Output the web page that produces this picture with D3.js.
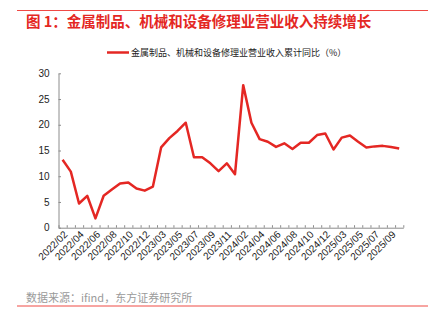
<!DOCTYPE html>
<html>
<head>
<meta charset="utf-8">
<script src="https://cdn.jsdelivr.net/npm/d3@7/dist/d3.min.js"></script>
<style>
  html, body { margin: 0; padding: 0; background: #fff; }
  svg { display: block; font-family: "Liberation Sans", Arial, "Noto Sans CJK SC", sans-serif; }
</style>
</head>
<body>
<svg id="chart" width="443" height="324"></svg>
<script>
// Monthly periods (January is reported together with February)
const months = [
  "2022/02","2022/03","2022/04","2022/05","2022/06","2022/07","2022/08","2022/09","2022/10","2022/11","2022/12",
  "2023/02","2023/03","2023/04","2023/05","2023/06","2023/07","2023/08","2023/09","2023/10","2023/11","2023/12",
  "2024/02","2024/03","2024/04","2024/05","2024/06","2024/07","2024/08","2024/09","2024/10","2024/11","2024/12",
  "2025/02","2025/03","2025/04","2025/05","2025/06","2025/07","2025/08","2025/09","2025/10"
];

// Cumulative year-on-year growth of operating revenue (%)
const revenueYoY = [
  13.2, 10.9, 4.7, 6.2, 1.8, 6.2, 7.4, 8.6, 8.8, 7.6, 7.2,
  8.0, 15.6, 17.4, 18.8, 20.4, 13.7, 13.7, 12.5, 11.0, 12.5, 10.4,
  27.7, 20.4, 17.2, 16.7, 15.7, 16.4, 15.3, 16.5, 16.5, 18.0, 18.3,
  15.2, 17.5, 17.9, 16.7, 15.6, 15.8, 15.9, 15.7, 15.4
];

const yTicks = [0, 5, 10, 15, 20, 25, 30];
const xLabels = months.filter((d, i) => i % 2 === 0);

const titleText = "图 1：金属制品、机械和设备修理业营业收入持续增长";
const legendText = "金属制品、机械和设备修理业营业收入累计同比（%）";
const sourceText = "数据来源：ifind，东方证券研究所";

const red = "#e42723";
const frameRed = "#ef4a45";

const svg = d3.select("#chart");
const plotLeft = 58.5, plotRight = 403.3, plotTop = 73.3, plotBottom = 227.7;

// Frame rules above the title and below the source note
svg.append("line").attr("x1", 17).attr("x2", 428).attr("y1", 10.5).attr("y2", 10.5)
  .attr("stroke", frameRed).attr("stroke-width", 1);
svg.append("line").attr("x1", 17).attr("x2", 428).attr("y1", 306).attr("y2", 306)
  .attr("stroke", frameRed).attr("stroke-width", 1);

svg.append("text").attr("x", 26).attr("y", 27)
  .attr("fill", red).attr("font-size", 14.5).attr("font-weight", "bold")
  .attr("font-family", "'Noto Sans CJK SC', sans-serif")
  .text(titleText);

// Legend
svg.append("line").attr("x1", 107).attr("x2", 129).attr("y1", 52.5).attr("y2", 52.5)
  .attr("stroke", red).attr("stroke-width", 2.5);
svg.append("text").attr("x", 131).attr("y", 52.5).attr("dy", "0.35em")
  .attr("font-size", 9).attr("fill", "#222")
  .attr("font-family", "'Noto Sans CJK SC', sans-serif")
  .text(legendText);

const x = d3.scaleBand().domain(months).range([plotLeft, plotRight]);
const y = d3.scaleLinear().domain([0, 30]).range([plotBottom, plotTop]);

// Y axis with inward ticks
const yAxis = svg.append("g").attr("transform", `translate(${plotLeft},0)`)
  .call(d3.axisLeft(y).tickValues(yTicks).tickSizeInner(-2.5).tickSizeOuter(0).tickPadding(9));
yAxis.select(".domain").attr("stroke", "#8c8c8c");
yAxis.selectAll(".tick line").attr("stroke", "#8c8c8c");
yAxis.selectAll(".tick text").attr("font-size", 10).attr("fill", "#222")
  .attr("font-family", "'Liberation Sans', Arial, sans-serif");

// X axis: ticks on category boundaries, pointing inward
const boundary = d3.scaleLinear().domain([0, months.length]).range([plotLeft, plotRight]);
const xAxis = svg.append("g").attr("transform", `translate(0,${plotBottom})`)
  .call(d3.axisBottom(boundary).tickValues(d3.range(months.length + 1))
    .tickFormat("").tickSizeInner(-2.5).tickSizeOuter(0));
xAxis.select(".domain").attr("stroke", "#8c8c8c");
xAxis.selectAll(".tick line").attr("stroke", "#8c8c8c");

// Rotated period labels, every second month
svg.append("g").selectAll("text").data(xLabels).join("text")
  .attr("transform", d => `translate(${x(d) + x.bandwidth() / 2 + 3},${plotBottom + 5}) rotate(-45)`)
  .attr("text-anchor", "end").attr("dy", "0.35em")
  .attr("font-size", 10).attr("fill", "#222")
  .attr("font-family", "'Liberation Sans', Arial, sans-serif")
  .text(d => d);

// Series line
const line = d3.line()
  .x((d, i) => x(months[i]) + x.bandwidth() / 2)
  .y(d => y(d));
svg.append("path").datum(revenueYoY)
  .attr("d", line).attr("fill", "none")
  .attr("stroke", red).attr("stroke-width", 2.5).attr("stroke-linejoin", "round");

// Source note
svg.append("text").attr("x", 26).attr("y", 298).attr("dy", "0.35em")
  .attr("font-size", 11).attr("fill", "#9a9a9a")
  .attr("font-family", "'Noto Sans CJK SC', sans-serif")
  .text(sourceText);
</script>
</body>
</html>
